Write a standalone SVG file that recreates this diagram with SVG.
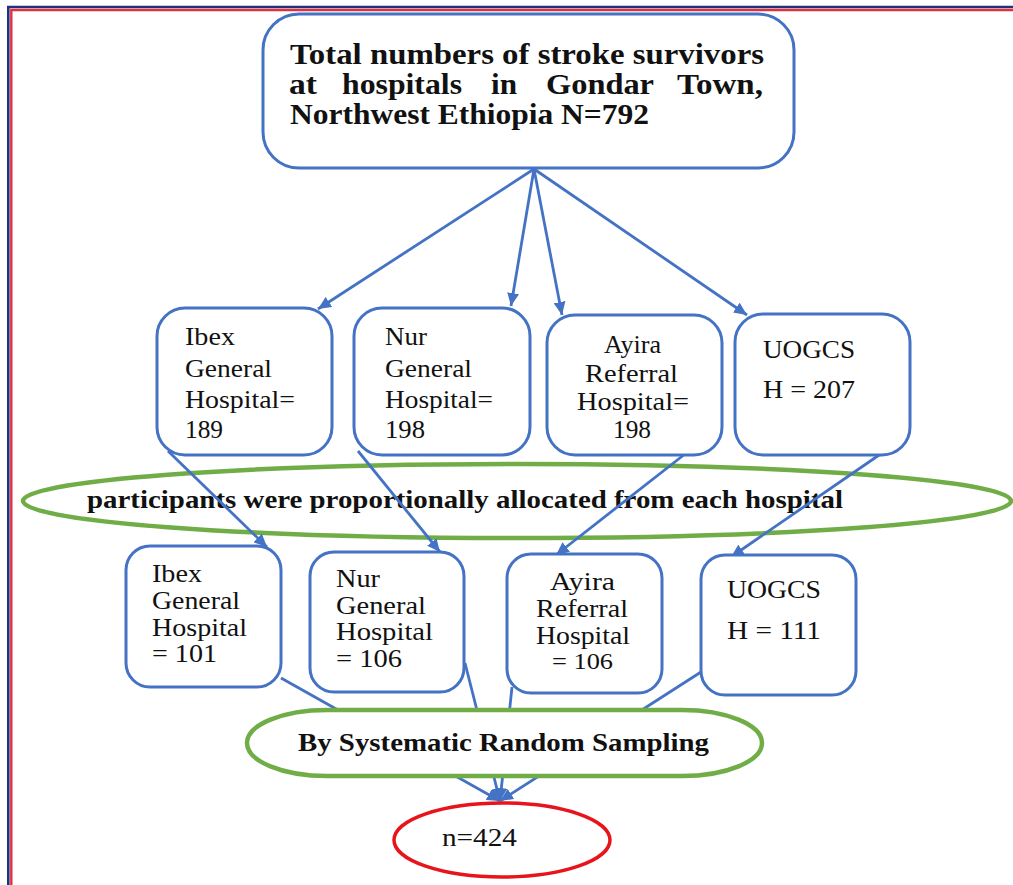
<svg xmlns="http://www.w3.org/2000/svg" width="1013" height="885" viewBox="0 0 1013 885" font-family="'Liberation Serif', Tinos, 'Times New Roman', Times, serif">
<style>
.box{fill:#fff;stroke:#4472C4;stroke-width:3}
.grn{stroke:#70AD47;stroke-width:4.5}
.red{fill:#fff;stroke:#E8141C;stroke-width:3.5}
.con{stroke:#4472C4;stroke-width:2.8;fill:none}
.arr{marker-end:url(#ah)}
text{fill:#111;font-size:25px}
.b{font-weight:bold}
.t{font-size:29px}
</style>
<defs>
<marker id="ah" markerUnits="userSpaceOnUse" markerWidth="14" markerHeight="12" refX="13" refY="6" orient="auto">
<path d="M0,0 L13,6 L0,12 z" fill="#4472C4"/>
</marker>
</defs>
<rect width="1013" height="885" fill="#fff"/>
<g id="frame" fill="none">
<path d="M8.3,885 V7 H1013" stroke="#22307A" stroke-width="2.6"/>
<path d="M11.3,885 V10 H1013" stroke="#E03040" stroke-width="2.4"/>
</g>
<g id="alloc">
<ellipse cx="517" cy="501" rx="494" ry="37" fill="none" class="grn"/>
<text class="b" x="87" y="508" textLength="756" lengthAdjust="spacingAndGlyphs" style="font-size:25px">participants were proportionally allocated from each hospital</text>
</g>
<g id="connectors">
<line class="con arr" x1="534" y1="169" x2="318" y2="309"/>
<line class="con arr" x1="534" y1="169" x2="511" y2="306"/>
<line class="con arr" x1="534" y1="169" x2="562" y2="315"/>
<line class="con arr" x1="534" y1="169" x2="747" y2="315"/>
<line class="con arr" x1="168" y1="451" x2="267" y2="547"/>
<line class="con arr" x1="358" y1="451" x2="440" y2="552"/>
<line class="con arr" x1="685" y1="454" x2="556" y2="555"/>
<line class="con arr" x1="882" y1="453" x2="731" y2="557"/>
<line class="con arr" x1="281" y1="678" x2="500" y2="801"/>
<line class="con arr" x1="465" y1="663" x2="500" y2="801"/>
<line class="con arr" x1="512" y1="687" x2="500" y2="801"/>
<line class="con arr" x1="701" y1="672" x2="500" y2="801"/>
</g>
<g id="total">
<rect class="box" x="263" y="14" width="531" height="154" rx="36"/>
<text class="b t" x="290" y="64" textLength="474" lengthAdjust="spacingAndGlyphs">Total numbers of stroke survivors</text>
<text class="b t" x="289" y="94" textLength="28" lengthAdjust="spacingAndGlyphs">at</text>
<text class="b t" x="342" y="94" textLength="120" lengthAdjust="spacingAndGlyphs">hospitals</text>
<text class="b t" x="491" y="94" textLength="26" lengthAdjust="spacingAndGlyphs">in</text>
<text class="b t" x="546" y="94" textLength="108" lengthAdjust="spacingAndGlyphs">Gondar</text>
<text class="b t" x="677" y="94" textLength="86" lengthAdjust="spacingAndGlyphs">Town,</text>
<text class="b t" x="290" y="124" textLength="359" lengthAdjust="spacingAndGlyphs">Northwest Ethiopia N=792</text>
</g>
<g id="ibex1">
<rect class="box" x="157" y="308" width="175" height="147" rx="28"/>
<text x="185" y="345" textLength="50" lengthAdjust="spacingAndGlyphs">Ibex</text>
<text x="185" y="377" textLength="87" lengthAdjust="spacingAndGlyphs">General</text>
<text x="185" y="408" textLength="110" lengthAdjust="spacingAndGlyphs">Hospital=</text>
<text x="185" y="438" textLength="38" lengthAdjust="spacingAndGlyphs">189</text>
</g>
<g id="nur1">
<rect class="box" x="354" y="308" width="176" height="147" rx="28"/>
<text x="385" y="345" textLength="42" lengthAdjust="spacingAndGlyphs">Nur</text>
<text x="385" y="377" textLength="87" lengthAdjust="spacingAndGlyphs">General</text>
<text x="385" y="408" textLength="108" lengthAdjust="spacingAndGlyphs">Hospital=</text>
<text x="385" y="438" textLength="40" lengthAdjust="spacingAndGlyphs">198</text>
</g>
<g id="ayira1">
<rect class="box" x="547" y="315" width="175" height="140" rx="28"/>
<text x="604" y="353" textLength="57" lengthAdjust="spacingAndGlyphs">Ayira</text>
<text x="585" y="382" textLength="93" lengthAdjust="spacingAndGlyphs">Referral</text>
<text x="577" y="410" textLength="112" lengthAdjust="spacingAndGlyphs">Hospital=</text>
<text x="613" y="438" textLength="38" lengthAdjust="spacingAndGlyphs">198</text>
</g>
<g id="uogcs1">
<rect class="box" x="735" y="314" width="175" height="141" rx="28"/>
<text x="763" y="358" textLength="92" lengthAdjust="spacingAndGlyphs">UOGCS</text>
<text x="763" y="398" textLength="92" lengthAdjust="spacingAndGlyphs">H = 207</text>
</g>
<g id="ibex2">
<rect class="box" x="126" y="546" width="155" height="141" rx="24"/>
<text x="152" y="582" textLength="50" lengthAdjust="spacingAndGlyphs">Ibex</text>
<text x="152" y="609" textLength="88" lengthAdjust="spacingAndGlyphs">General</text>
<text x="152" y="636" textLength="95" lengthAdjust="spacingAndGlyphs">Hospital</text>
<text x="152" y="662" textLength="65" lengthAdjust="spacingAndGlyphs">= 101</text>
</g>
<g id="nur2">
<rect class="box" x="310" y="552" width="154" height="140" rx="24"/>
<text x="336" y="587" textLength="44" lengthAdjust="spacingAndGlyphs">Nur</text>
<text x="336" y="614" textLength="90" lengthAdjust="spacingAndGlyphs">General</text>
<text x="336" y="640" textLength="97" lengthAdjust="spacingAndGlyphs">Hospital</text>
<text x="336" y="667" textLength="66" lengthAdjust="spacingAndGlyphs">= 106</text>
</g>
<g id="ayira2">
<rect class="box" x="507" y="554" width="155" height="139" rx="24"/>
<text x="550" y="590" textLength="65" lengthAdjust="spacingAndGlyphs">Ayira</text>
<text x="536" y="617" textLength="92" lengthAdjust="spacingAndGlyphs">Referral</text>
<text x="536" y="644" textLength="94" lengthAdjust="spacingAndGlyphs">Hospital</text>
<text x="552" y="669" textLength="61" lengthAdjust="spacingAndGlyphs" style="font-size:23px">= 106</text>
</g>
<g id="uogcs2">
<rect class="box" x="701" y="555" width="155" height="140" rx="24"/>
<text x="727" y="598" textLength="94" lengthAdjust="spacingAndGlyphs">UOGCS</text>
<text x="727" y="639" textLength="94" lengthAdjust="spacingAndGlyphs">H = 111</text>
</g>
<g id="sampling">
<rect x="247" y="710" width="515" height="66" rx="80" ry="33" fill="#fff" class="grn"/>
<text class="b" x="298" y="751" textLength="411" lengthAdjust="spacingAndGlyphs" style="font-size:25px">By Systematic Random Sampling</text>
</g>
<g id="sample">
<ellipse class="red" cx="502" cy="840" rx="108" ry="37"/>
<text x="442" y="846" textLength="75" lengthAdjust="spacingAndGlyphs">n=424</text>
</g>
</svg>
